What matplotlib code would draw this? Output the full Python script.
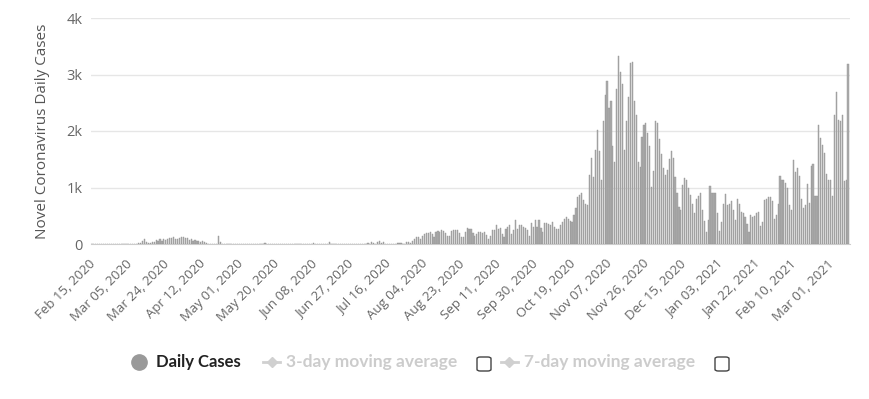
import matplotlib.pyplot as plt
import matplotlib.dates as mdates
from matplotlib.lines import Line2D
from matplotlib.patches import FancyBboxPatch
import pandas as pd

# daily cases, one list per month
feb_2020 = [0] * 15  # Feb 15 - Feb 29
mar_2020 = [0, 0, 0, 0, 0, 0, 0, 0, 0, 10, 20, 60, 90, 30, 10, 20, 40, 30, 70, 60,
            80, 50, 80, 70, 90, 100, 110, 120, 90, 80, 100]
apr_2020 = [120, 130, 100, 110, 70, 90, 60, 70, 50, 60, 40, 50, 30, 20, 0, 0, 0, 0, 0, 140,
            40, 0, 0, 0, 0, 0, 0, 0, 0, 0]
may_2020 = [0] * 13 + [15] + [0] * 17
jun_2020 = [0] * 7 + [15] + [0] * 7 + [40] + [0] * 14
jul_2020 = [0, 0, 0, 0, 0, 20, 0, 30, 10, 0, 40, 60, 20, 30, 0, 0, 0, 0, 0, 0,
            20, 10, 20, 0, 0, 30, 40, 20, 60, 90, 120]
aug_2020 = [130, 90, 150, 170, 190, 200, 210, 180, 120, 220, 230, 210, 240, 230, 200, 140,
            150, 230, 240, 250, 240, 200, 120, 120, 210, 285, 260, 270, 200, 150, 180]
sep_2020 = [210, 220, 200, 210, 160, 90, 150, 240, 250, 345, 260, 285, 180, 120, 270, 300,
            333, 180, 250, 430, 260, 340, 330, 300, 280, 240, 150, 370, 300, 430]
oct_2020 = [300, 430, 280, 210, 370, 380, 360, 340, 390, 300, 260, 260, 330, 390, 440, 480,
            450, 400, 390, 520, 630, 830, 860, 900, 780, 700, 690, 1220, 1520, 1190, 1670]
nov_2020 = [2020, 1640, 1130, 2170, 2630, 2890, 2410, 2530, 1730, 1460, 2750, 3320, 3050,
            2830, 1670, 2170, 2600, 3210, 3230, 2530, 2290, 1460, 1370, 1900, 2110, 2140,
            1960, 1730, 1010, 1300]
dec_2020 = [2170, 2140, 1850, 1600, 1340, 1220, 1310, 1500, 1640, 1520, 1190, 900, 660, 600,
            1050, 1160, 1130, 1000, 860, 700, 540, 800, 850, 900, 600, 400, 210, 420, 1020,
            900, 900]
jan_2021 = [900, 550, 225, 390, 700, 880, 690, 700, 760, 600, 420, 800, 700, 570, 540, 480,
            350, 210, 510, 480, 500, 540, 570, 310, 390, 770, 800, 830, 840, 760, 450]
feb_2021 = [510, 700, 1200, 1130, 1140, 1080, 1000, 690, 600, 1480, 1280, 1340, 1200, 800,
            640, 690, 1060, 720, 1380, 1410, 850, 850, 2100, 1880, 1760, 1610, 1240, 1140]
mar_2021 = [1140, 850, 2290, 2690, 2200, 2170, 2290, 1120, 1140, 3180]

cases = (feb_2020 + mar_2020 + apr_2020 + may_2020 + jun_2020 + jul_2020 + aug_2020
         + sep_2020 + oct_2020 + nov_2020 + dec_2020 + jan_2021 + feb_2021 + mar_2021)
dates = pd.date_range('2020-02-15', periods=len(cases), freq='D')

y_ticks = [0, 1000, 2000, 3000, 4000]
y_labels = ['0', '1k', '2k', '3k', '4k']
tick_dates = pd.date_range('2020-02-15', '2021-03-01', freq='19D')

fig = plt.figure(figsize=(8.7, 3.99), dpi=100)
ax = fig.add_axes([91 / 870, 1 - 244 / 399, (850 - 91) / 870, (244 - 18) / 399])

ax.bar(dates, cases, width=0.6, color='#acacac', edgecolor='#939393', linewidth=0.3, zorder=3)

ax.set_ylim(0, 4000)
ax.set_yticks(y_ticks)
ax.set_yticklabels(y_labels, color='#666666', fontsize=10.5, family='Open Sans')
ax.grid(axis='y', color='#e6e6e6', linewidth=1, zorder=0)
ax.set_ylabel('Novel Coronavirus Daily Cases', color='#555555', fontsize=11,
              family='Open Sans', labelpad=12)

ax.set_xlim(dates[0] - pd.Timedelta(days=0.5), dates[-1] + pd.Timedelta(days=1))
ax.set_xticks(tick_dates)
ax.xaxis.set_major_formatter(mdates.DateFormatter('%b %d, %Y'))
for lbl in ax.get_xticklabels():
    lbl.set_rotation(45)
    lbl.set_ha('right')
    lbl.set_va('center_baseline')
    lbl.set_rotation_mode('anchor')
    lbl.set_color('#666666')
    lbl.set_fontsize(9.5)
    lbl.set_family('Open Sans')

ax.tick_params(axis='y', length=0, pad=6)
ax.tick_params(axis='x', length=0, pad=12)
for s in ['top', 'right', 'left']:
    ax.spines[s].set_visible(False)
ax.spines['bottom'].set_color('#cccccc')

# legend drawn by hand, like the chart's html legend
ly = 1 - 362 / 399
fig.add_artist(Line2D([139 / 870], [ly], marker='o', markersize=11, color='#999999',
                      transform=fig.transFigure))
fig.text(156 / 870, ly, 'Daily Cases', fontsize=12, fontweight='bold', color='#222222',
         va='center', family='Lato')

for x0, label, box_x in [(263, '3-day moving average', 477), (501, '7-day moving average', 715)]:
    fig.add_artist(Line2D([x0 / 870, (x0 + 17) / 870], [ly, ly], color='#d0d0d0', lw=2,
                          transform=fig.transFigure))
    fig.add_artist(Line2D([(x0 + 8.5) / 870], [ly], marker='D', markersize=5, color='#d0d0d0',
                          transform=fig.transFigure))
    fig.text((x0 + 23) / 870, ly, label, fontsize=12.5, fontweight='bold', color='#cccccc',
             va='center', family='Lato')
    fig.add_artist(FancyBboxPatch((box_x / 870, 1 - 371 / 399), 14 / 870, 14 / 399,
                                  boxstyle='round,pad=0,rounding_size=0.004',
                                  transform=fig.transFigure, facecolor='white',
                                  edgecolor='#444444', linewidth=1))

fig.savefig('out.png', dpi=100)
